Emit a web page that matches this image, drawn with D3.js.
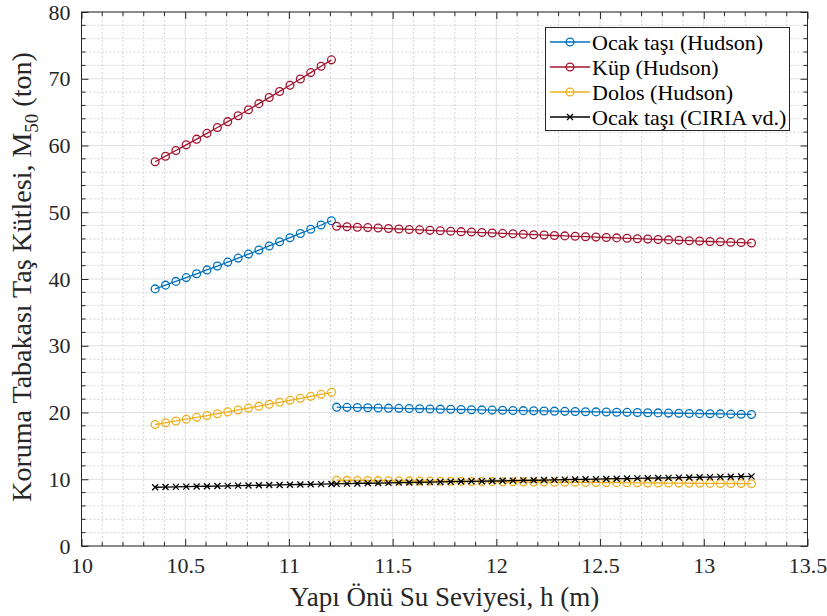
<!DOCTYPE html>
<html>
<head>
<meta charset="utf-8">
<script src="https://cdn.jsdelivr.net/npm/d3@7"></script>
<style>
  html, body { margin: 0; padding: 0; background: #fff; }
  svg { display: block; }
  svg text { font-family: "Liberation Serif", "Times New Roman", serif !important; fill: #262626; }
</style>
</head>
<body>
<svg id="chart" width="827" height="616"></svg>
<script>
// ---- data ----
const hLeft = [10.355, 10.405, 10.455, 10.505, 10.555, 10.605, 10.655, 10.705, 10.755, 10.805,
               10.855, 10.905, 10.955, 11.005, 11.055, 11.105, 11.155, 11.205];
const hRight = [11.23, 11.28, 11.33, 11.38, 11.43, 11.48, 11.53, 11.58, 11.63, 11.68,
                11.73, 11.78, 11.83, 11.88, 11.93, 11.98, 12.03, 12.08, 12.13, 12.18,
                12.23, 12.28, 12.33, 12.38, 12.43, 12.48, 12.53, 12.58, 12.63, 12.68,
                12.73, 12.78, 12.83, 12.88, 12.93, 12.98, 13.03, 13.08, 13.13, 13.18, 13.23];

const ocakHudsonLeft = [38.52, 39.08, 39.64, 40.21, 40.78, 41.36, 41.94, 42.53, 43.13, 43.73,
                        44.34, 44.95, 45.57, 46.19, 46.82, 47.45, 48.09, 48.73];
const kupHudsonLeft = [57.57, 58.40, 59.25, 60.10, 60.95, 61.82, 62.69, 63.57, 64.46, 65.36,
                       66.27, 67.18, 68.10, 69.03, 69.97, 70.92, 71.87, 72.83];
const dolosHudsonLeft = [18.20, 18.46, 18.73, 19.00, 19.27, 19.54, 19.82, 20.10, 20.38, 20.66,
                         20.95, 21.24, 21.53, 21.82, 22.12, 22.42, 22.72, 23.02];

const kupRight = [47.90, 47.83, 47.76, 47.70, 47.63, 47.56, 47.49, 47.42, 47.36, 47.29,
                  47.22, 47.16, 47.09, 47.03, 46.96, 46.90, 46.84, 46.77, 46.71, 46.64,
                  46.58, 46.52, 46.46, 46.40, 46.34, 46.28, 46.22, 46.16, 46.10, 46.04,
                  45.98, 45.92, 45.86, 45.80, 45.74, 45.68, 45.62, 45.57, 45.51, 45.46, 45.40];
const ocakRight = [20.80, 20.77, 20.74, 20.71, 20.68, 20.65, 20.62, 20.59, 20.56, 20.53,
                   20.50, 20.48, 20.45, 20.42, 20.39, 20.36, 20.34, 20.31, 20.28, 20.25,
                   20.23, 20.20, 20.17, 20.15, 20.12, 20.09, 20.07, 20.04, 20.02, 19.99,
                   19.96, 19.94, 19.91, 19.89, 19.86, 19.83, 19.81, 19.79, 19.76, 19.74, 19.71];
const dolosRight = [9.85, 9.83, 9.82, 9.81, 9.79, 9.78, 9.76, 9.75, 9.74, 9.72,
                    9.71, 9.70, 9.68, 9.67, 9.65, 9.64, 9.63, 9.62, 9.60, 9.59,
                    9.58, 9.56, 9.55, 9.54, 9.53, 9.52, 9.50, 9.49, 9.48, 9.47,
                    9.45, 9.44, 9.43, 9.42, 9.40, 9.39, 9.38, 9.37, 9.36, 9.35, 9.33];
const ciria = [8.80, 8.83, 8.86, 8.89, 8.92, 8.95, 8.98, 9.01, 9.04, 9.07,
               9.10, 9.13, 9.15, 9.18, 9.21, 9.24, 9.27, 9.30,
               9.31, 9.34, 9.37, 9.40, 9.43, 9.46, 9.49, 9.51, 9.54, 9.57,
               9.60, 9.63, 9.66, 9.69, 9.71, 9.74, 9.77, 9.80, 9.83, 9.85,
               9.88, 9.91, 9.94, 9.97, 9.99, 10.02, 10.05, 10.08, 10.10, 10.13,
               10.16, 10.19, 10.21, 10.24, 10.27, 10.30, 10.32, 10.35, 10.38, 10.40, 10.43];

const xTicks = [10, 10.5, 11, 11.5, 12, 12.5, 13, 13.5];
const yTicks = [0, 10, 20, 30, 40, 50, 60, 70, 80];
const legendLabels = ["Ocak taşı (Hudson)", "Küp (Hudson)", "Dolos (Hudson)", "Ocak taşı (CIRIA vd.)"];
const xLabel = "Yapı Önü Su Seviyesi, h (m)";
const yLabelMain = "Koruma Tabakası Taş Kütlesi, M";
const yLabelSub = "50";
const yLabelTail = " (ton)";

// ---- styles ----
const FONT = '"Liberation Serif", "Times New Roman", serif';
const C_BLUE = "#0072BD", C_RED = "#A2142F", C_YEL = "#EDB120", C_BLK = "#000000";

const svg = d3.select("#chart").attr("font-family", FONT);
const L = 81.5, R = 807.5, T = 12, B = 546;
const x = d3.scaleLinear().domain([10, 13.5]).range([L, R]);
const y = d3.scaleLinear().domain([0, 80]).range([B, T]);

// grid: minor dotted
const gGrid = svg.append("g");
const xMinor = d3.range(100, 136).map(v => v / 10).filter(v => !xTicks.some(t => Math.abs(t - v) < 1e-9));
const yMinor = d3.range(0, 81, 2).filter(v => v % 10 !== 0);
gGrid.selectAll(".xm").data(xMinor).enter().append("line")
  .attr("x1", d => x(d)).attr("x2", d => x(d)).attr("y1", T).attr("y2", B)
  .attr("stroke", "#d4d4d4").attr("stroke-width", 1).attr("stroke-dasharray", "2,2");
gGrid.selectAll(".ym").data(yMinor).enter().append("line")
  .attr("y1", d => y(d)).attr("y2", d => y(d)).attr("x1", L).attr("x2", R)
  .attr("stroke", "#d4d4d4").attr("stroke-width", 1).attr("stroke-dasharray", "2,2");
// major solid
gGrid.selectAll(".xM").data(xTicks).enter().append("line")
  .attr("x1", d => x(d)).attr("x2", d => x(d)).attr("y1", T).attr("y2", B)
  .attr("stroke", "#e0e0e0").attr("stroke-width", 1);
gGrid.selectAll(".yM").data(yTicks).enter().append("line")
  .attr("y1", d => y(d)).attr("y2", d => y(d)).attr("x1", L).attr("x2", R)
  .attr("stroke", "#e0e0e0").attr("stroke-width", 1);

// axes with inward ticks
const axisColor = "#262626";
function styleAxis(g) {
  g.attr("font-family", FONT).attr("font-size", 22);
  g.select(".domain").remove();
  g.selectAll(".tick line").attr("stroke", axisColor);
  g.selectAll("text").attr("font-family", FONT).attr("font-size", 22).attr("fill", axisColor);
}
const xAxisB = svg.append("g").attr("transform", `translate(0,${B})`)
  .call(d3.axisBottom(x).tickValues(xTicks).tickSizeInner(-7).tickSizeOuter(0).tickPadding(11).tickFormat(d3.format("")));
styleAxis(xAxisB);
const yAxisL = svg.append("g").attr("transform", `translate(${L},0)`)
  .call(d3.axisLeft(y).tickValues(yTicks).tickSizeInner(-7).tickSizeOuter(0).tickPadding(11));
styleAxis(yAxisL);
const xAxisT = svg.append("g").attr("transform", `translate(0,${T})`)
  .call(d3.axisTop(x).tickValues(xTicks).tickSizeInner(-7).tickSizeOuter(0).tickFormat(""));
styleAxis(xAxisT);
const yAxisR = svg.append("g").attr("transform", `translate(${R},0)`)
  .call(d3.axisRight(y).tickValues(yTicks).tickSizeInner(-7).tickSizeOuter(0).tickFormat(""));
styleAxis(yAxisR);
// minor ticks
const gMinT = svg.append("g").attr("stroke", axisColor);
xMinor.forEach(v => {
  gMinT.append("line").attr("x1", x(v)).attr("x2", x(v)).attr("y1", B).attr("y2", B - 4);
  gMinT.append("line").attr("x1", x(v)).attr("x2", x(v)).attr("y1", T).attr("y2", T + 4);
});
yMinor.forEach(v => {
  gMinT.append("line").attr("y1", y(v)).attr("y2", y(v)).attr("x1", L).attr("x2", L + 4);
  gMinT.append("line").attr("y1", y(v)).attr("y2", y(v)).attr("x1", R).attr("x2", R - 4);
});
// box
svg.append("rect").attr("x", L).attr("y", T).attr("width", R - L).attr("height", B - T)
  .attr("fill", "none").attr("stroke", axisColor).attr("stroke-width", 1);

// series
const line = d3.line().x(d => x(d[0])).y(d => y(d[1]));
function drawCircles(hs, vs, color) {
  const pts = hs.map((h, i) => [h, vs[i]]);
  svg.append("path").datum(pts).attr("d", line).attr("fill", "none")
    .attr("stroke", color).attr("stroke-width", 1.3);
  svg.append("g").selectAll("circle").data(pts).enter().append("circle")
    .attr("cx", d => x(d[0])).attr("cy", d => y(d[1])).attr("r", 3.9)
    .attr("fill", "none").attr("stroke", color).attr("stroke-width", 1.3);
}
function xMark(g, cx, cy, s, color) {
  g.append("path").attr("d", `M${cx - s},${cy - s}L${cx + s},${cy + s}M${cx - s},${cy + s}L${cx + s},${cy - s}`)
    .attr("stroke", color).attr("stroke-width", 1.3).attr("fill", "none");
}
drawCircles(hLeft, ocakHudsonLeft, C_BLUE);
drawCircles(hLeft, kupHudsonLeft, C_RED);
drawCircles(hLeft, dolosHudsonLeft, C_YEL);
drawCircles(hRight, kupRight, C_RED);
drawCircles(hRight, ocakRight, C_BLUE);
drawCircles(hRight, dolosRight, C_YEL);
const hAll = hLeft.concat(hRight);
const ciriaPts = hAll.map((h, i) => [h, ciria[i]]);
svg.append("path").datum(ciriaPts).attr("d", line).attr("fill", "none")
  .attr("stroke", C_BLK).attr("stroke-width", 1.3);
const gX = svg.append("g");
ciriaPts.forEach(d => xMark(gX, x(d[0]), y(d[1]), 3, C_BLK));

// axis labels
svg.append("text").attr("x", (L + R) / 2).attr("y", 606).attr("text-anchor", "middle")
  .attr("font-family", FONT).attr("font-size", 27).text(xLabel);
const yl = svg.append("text").attr("transform", `translate(31,${(T + B) / 2 - 2}) rotate(-90)`)
  .attr("text-anchor", "middle").attr("font-family", FONT).attr("font-size", 28);
yl.append("tspan").text(yLabelMain);
yl.append("tspan").attr("dy", 7).attr("font-size", 19).text(yLabelSub);
yl.append("tspan").attr("dy", -7).text(yLabelTail);

// legend
const lg = svg.append("g");
lg.append("rect").attr("x", 545.5).attr("y", 27.5).attr("width", 244).attr("height", 103)
  .attr("fill", "#fff").attr("stroke", axisColor).attr("stroke-width", 1);
const legColors = [C_BLUE, C_RED, C_YEL, C_BLK];
legendLabels.forEach((lab, i) => {
  const cy = 42 + i * 25;
  lg.append("line").attr("x1", 550).attr("x2", 590).attr("y1", cy).attr("y2", cy)
    .attr("stroke", legColors[i]).attr("stroke-width", 1.3);
  if (i < 3) {
    lg.append("circle").attr("cx", 570).attr("cy", cy).attr("r", 3.9)
      .attr("fill", "none").attr("stroke", legColors[i]).attr("stroke-width", 1.3);
  } else {
    xMark(lg, 570, cy, 3, legColors[i]);
  }
  lg.append("text").attr("x", 592).attr("y", cy).attr("dy", "0.35em")
    .attr("font-family", FONT).attr("font-size", 22).style("fill", "#000").text(lab);
});
</script>
</body>
</html>
